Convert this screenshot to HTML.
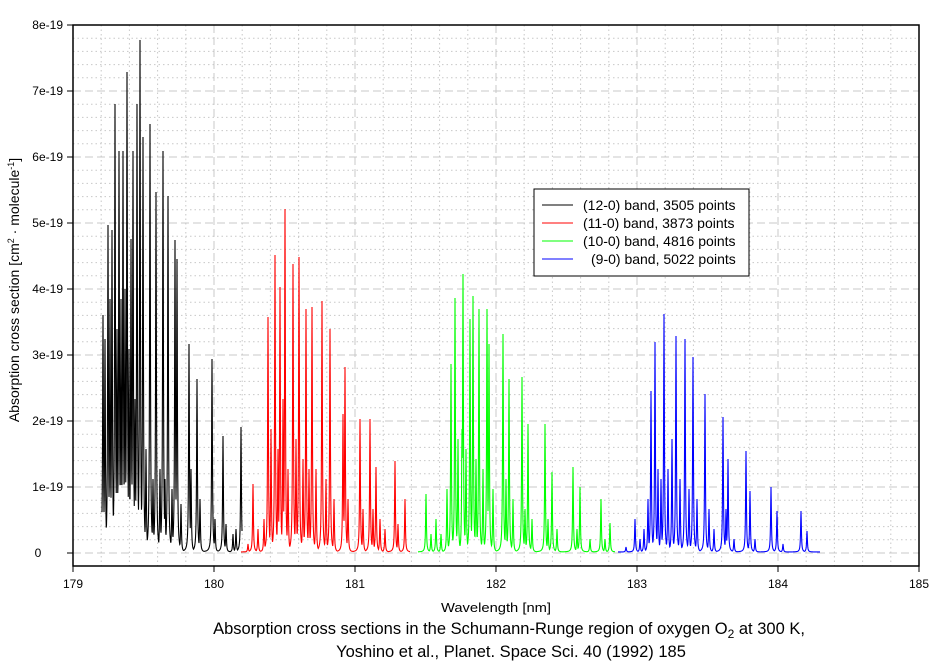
<!DOCTYPE html>
<html><head><meta charset="utf-8"><style>
body{margin:0;background:#fff;}
svg{display:block;font-family:"Liberation Sans",Arial,sans-serif;}
</style></head><body>
<svg id="s" width="944" height="665" xmlns="http://www.w3.org/2000/svg">
<rect width="944" height="665" fill="#fff"/>
<g id="grid"></g>
<g id="data"></g>
<rect x="73" y="25" width="846" height="541" fill="none" stroke="#000" stroke-width="1.5"/>
<g id="ticks" font-size="12" fill="#000"></g>
<text x="496" y="612" font-size="13" text-anchor="middle" textLength="110" lengthAdjust="spacingAndGlyphs">Wavelength [nm]</text>
<text font-size="14" text-anchor="middle" transform="translate(19,290) rotate(-90)">Absorption cross section [cm<tspan dy="-5" font-size="9">2</tspan><tspan dy="5">  · molecule</tspan><tspan dy="-5" font-size="9">-1</tspan><tspan dy="5">]</tspan></text>
<text x="509" y="634" font-size="16.5" text-anchor="middle">Absorption cross sections in the Schumann-Runge region of oxygen O<tspan dy="4" font-size="12">2</tspan><tspan dy="-4">  at 300 K,</tspan></text>
<text x="511" y="657" font-size="16.5" text-anchor="middle">Yoshino et al., Planet. Space Sci. 40 (1992) 185</text>
<rect x="534" y="189" width="215" height="87" fill="#fff" stroke="#000" stroke-width="1"/>
<g font-size="14">
<line x1="542" y1="205" x2="573" y2="205" stroke="#000"/><text x="583" y="210">(12-0) band, 3505 points</text>
<line x1="542" y1="223" x2="573" y2="223" stroke="#f00"/><text x="583" y="228">(11-0) band, 3873 points</text>
<line x1="542" y1="241" x2="573" y2="241" stroke="#0f0"/><text x="583" y="246">(10-0) band, 4816 points</text>
<line x1="542" y1="259" x2="573" y2="259" stroke="#00f"/><text x="591" y="264">(9-0) band, 5022 points</text>
</g>
</svg>
<script>
var NS="http://www.w3.org/2000/svg";
function el(p,t,a){var e=document.createElementNS(NS,t);for(var k in a)e.setAttribute(k,a[k]);p.appendChild(e);return e;}
var g=document.getElementById('grid'),tk=document.getElementById('ticks');
var X0=73,X1=919,Y0=553,PY=66;
function xp(v){return X0+(v-179)*(X1-X0)/6;}
for(var i=0;i<=30;i++){var x=X0+i*(X1-X0)/30;if(i%5==0){if(i>0&&i<30)el(g,'line',{x1:x,y1:25,x2:x,y2:566,stroke:'#c8c8c8','stroke-dasharray':'8,4'});}
 else el(g,'line',{x1:x,y1:25,x2:x,y2:566,stroke:'#c8c8c8','stroke-dasharray':'1.5,3'});}
for(var j=-1;j<=40;j++){var y=Y0-j*PY/5;if(y<25||y>566)continue;if(j%5==0){if(j<40)el(g,'line',{x1:73,y1:y,x2:919,y2:y,stroke:'#c8c8c8','stroke-dasharray':'8,4'});}
 else el(g,'line',{x1:73,y1:y,x2:919,y2:y,stroke:'#c8c8c8','stroke-dasharray':'1.5,3'});}
var yl=['0','1e-19','2e-19','3e-19','4e-19','5e-19','6e-19','7e-19','8e-19'];
for(var j=0;j<=8;j++){var y=Y0-j*PY;el(tk,'line',{x1:67,y1:y,x2:73,y2:y,stroke:'#000'});var t=el(tk,'text',{x:j==0?38:63,y:y+4,'text-anchor':j==0?'middle':'end'});t.textContent=yl[j];}
for(var i=0;i<=6;i++){var x=xp(179+i);el(tk,'line',{x1:x,y1:566,x2:x,y2:572,stroke:'#000'});var t=el(tk,'text',{x:x,y:588,'text-anchor':'middle'});t.textContent=179+i;}
var bands=[
['#000',102,242,[[103,316],[105,340],[108,226],[110,300],[112,231],[115,105],[117,330],[119,152],[121,300],[123,152],[125,290],[127,73],[129,350],[131,240],[133,152],[135,400],[137,105],[140,41],[143,138],[146,450],[150,125],[153,480],[156,193],[160,470],[163,152],[165,480],[168,197],[172,490],[175,241],[177,260],[181,505],[189,345],[191,470],[197,380],[200,500],[212,360],[215,520],[223,437],[226,525],[233,535],[236,530],[241,428]]],
['#f00',241,410,[[248,545],[253,485],[258,530],[264,520],[268,318],[271,430],[275,256],[278,450],[280,288],[283,400],[285,210],[288,470],[293,265],[296,440],[299,258],[303,460],[306,310],[309,470],[312,308],[316,470],[322,302],[326,480],[330,330],[334,500],[343,415],[345,368],[348,500],[360,420],[363,510],[370,420],[373,510],[376,468],[380,520],[385,530],[395,462],[398,525],[405,500]]],
['#0f0',418,615,[[426,495],[431,535],[436,520],[441,535],[447,490],[451,365],[455,299],[458,440],[462,430],[463,275],[466,450],[470,320],[473,297],[476,460],[479,310],[483,470],[487,310],[489,345],[493,490],[503,335],[506,480],[509,380],[513,500],[522,378],[525,510],[528,425],[532,520],[545,425],[548,520],[552,473],[557,530],[573,468],[577,530],[580,488],[590,540],[601,500],[605,540],[610,524]]],
['#00f',618,820,[[626,548],[635,520],[640,540],[644,530],[648,500],[651,392],[655,343],[658,470],[661,480],[664,315],[668,470],[672,440],[676,337],[680,480],[685,340],[689,490],[693,358],[697,500],[705,395],[709,510],[714,530],[723,418],[726,510],[728,460],[734,540],[746,452],[750,492],[755,540],[771,488],[777,512],[783,545],[801,512],[807,532]]]];
var d=document.getElementById('data');
bands.forEach(function(b){var pk=b[3].map(function(p){return [p[0],Y0-p[1]];});var s='';
 for(var x=b[1];x<=b[2];x+=0.25){var v=0;pk.forEach(function(p){var dx=(x-p[0])/0.45;var w=p[1]/(1+dx*dx);if(w>v)v=w;});
  v+=1;var y=Y0-v;if(y<25)y=25;s+=(s?'L':'M')+x.toFixed(2)+' '+y.toFixed(2);}
 el(d,'path',{d:s,fill:'none',stroke:b[0],'stroke-width':1.1});});
</script>
</body></html>
